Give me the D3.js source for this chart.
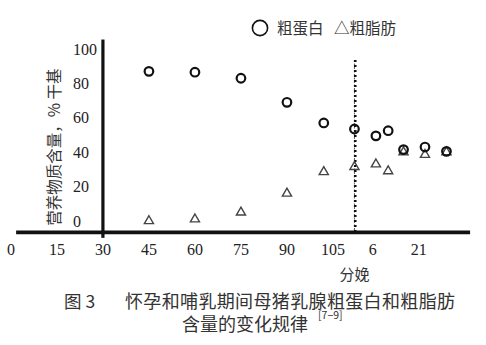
<!DOCTYPE html>
<html><head><meta charset="utf-8">
<script src="https://cdn.jsdelivr.net/npm/d3@7"></script>
<style>html,body{margin:0;padding:0;background:#fff;}svg{display:block;}</style>
</head><body>
<svg id="chart" width="486" height="345"></svg>
<script>
// Days are counted from mating; lactation days are offset by the farrowing day.
const birthDay = 112;
const xTickValues = [0, 15, 30, 45, 60, 75, 90, 105, 118, 133];
const xTickLabels = ["0", "15", "30", "45", "60", "75", "90", "105", "6", "21"];
const yTickValues = [0, 20, 40, 60, 80, 100];
const gestationDays = [45, 60, 75, 90, 102, 112];
const lactationDays = [7, 11, 16, 23, 30];
const crudeProtein = [87, 86.5, 83, 69, 57, 53.5, 49.5, 52.5, 41.5, 43, 40.5];
const crudeFat = [0, 1, 5, 16, 28.5, 31.5, 33, 29, 40, 38.5, 40];

const sampleDays = gestationDays.concat(lactationDays.map(d => birthDay + d));

const svg = d3.select("#chart");
const xs = d3.scaleLinear().domain([0, 150]).range([10.9, 471]);
const ys = d3.scaleLinear().domain([0, 100]).range([221, 49]);

const serif = "'Liberation Serif','Times New Roman',serif";
const cjk = "'Noto Sans CJK SC','Noto Sans',sans-serif";

// axes
svg.append("line")
  .attr("x1", xs(1.7)).attr("x2", xs(149.7))
  .attr("y1", ys(-6.6)).attr("y2", ys(-6.6))
  .attr("stroke", "#111").attr("stroke-width", 3.6);
svg.append("line")
  .attr("x1", xs(30)).attr("x2", xs(30))
  .attr("y1", ys(105.5)).attr("y2", ys(-9.8))
  .attr("stroke", "#111").attr("stroke-width", 3.2);

// x tick labels
svg.append("g").selectAll("text").data(xTickValues).join("text")
  .attr("x", d => xs(d)).attr("y", 255)
  .attr("text-anchor", "middle")
  .attr("font-family", serif).attr("font-size", 16).attr("fill", "#222")
  .text((d, i) => xTickLabels[i]);

// y tick labels
svg.append("g").selectAll("text").data(yTickValues).join("text")
  .attr("x", 73).attr("y", d => ys(d))
  .attr("dominant-baseline", "central")
  .attr("font-family", serif).attr("font-size", 16).attr("fill", "#222")
  .text(d => d);

// y axis title
svg.append("text")
  .attr("transform", `translate(53,${ys(43)}) rotate(-90)`)
  .attr("text-anchor", "middle").attr("dominant-baseline", "central")
  .attr("font-family", cjk).attr("font-size", 15.5).attr("fill", "#333")
  .text("营养物质含量，% 干基");

// farrowing line
const bx = xs(birthDay);
svg.append("line")
  .attr("x1", bx).attr("x2", bx).attr("y1", 60).attr("y2", ys(-6.6))
  .attr("stroke", "#333").attr("stroke-width", 0.8).attr("stroke-dasharray", "2,1.5");
svg.append("line")
  .attr("x1", bx + 0.8).attr("x2", bx + 0.8).attr("y1", 60).attr("y2", ys(-6.6))
  .attr("stroke", "#111").attr("stroke-width", 2.6).attr("stroke-dasharray", "2,3");
svg.append("text")
  .attr("x", bx).attr("y", 280).attr("text-anchor", "middle")
  .attr("font-family", cjk).attr("font-size", 15).attr("fill", "#333")
  .text("分娩");

// crude fat (triangles)
const tri = d3.symbol().type(d3.symbolTriangle).size(36);
svg.append("g").selectAll("path").data(crudeFat).join("path")
  .attr("d", tri)
  .attr("transform", (d, i) => `translate(${xs(sampleDays[i])},${ys(d)})`)
  .attr("fill", "none").attr("stroke", "#444").attr("stroke-width", 1.4);

// crude protein (circles)
svg.append("g").selectAll("circle").data(crudeProtein).join("circle")
  .attr("cx", (d, i) => xs(sampleDays[i])).attr("cy", d => ys(d))
  .attr("r", 4.3)
  .attr("fill", "none").attr("stroke", "#111").attr("stroke-width", 2.2);

// legend
svg.append("circle").attr("cx", 260).attr("cy", 28).attr("r", 7.6)
  .attr("fill", "none").attr("stroke", "#111").attr("stroke-width", 1.6);
svg.append("text").attr("x", 277).attr("y", 33.5)
  .attr("font-family", cjk).attr("font-size", 15.5).attr("fill", "#333")
  .text("粗蛋白");
svg.append("text").attr("x", 334).attr("y", 33.5)
  .attr("font-family", cjk).attr("font-size", 15.5).attr("fill", "#333")
  .text("△粗脂肪");

// caption
svg.append("text").attr("x", 64).attr("y", 308)
  .attr("font-family", cjk).attr("font-size", 17.5).attr("fill", "#333")
  .text("图 3");
svg.append("text").attr("x", 125).attr("y", 308)
  .attr("font-family", cjk).attr("font-size", 18).attr("fill", "#333")
  .attr("textLength", 330).attr("lengthAdjust", "spacing")
  .text("怀孕和哺乳期间母猪乳腺粗蛋白和粗脂肪");
svg.append("text").attr("x", 182).attr("y", 331)
  .attr("font-family", cjk).attr("font-size", 18).attr("fill", "#333")
  .text("含量的变化规律");
svg.append("text").attr("x", 318).attr("y", 319)
  .attr("font-family", cjk).attr("font-size", 10.5).attr("fill", "#333")
  .text("[7−9]");
</script>
</body></html>
